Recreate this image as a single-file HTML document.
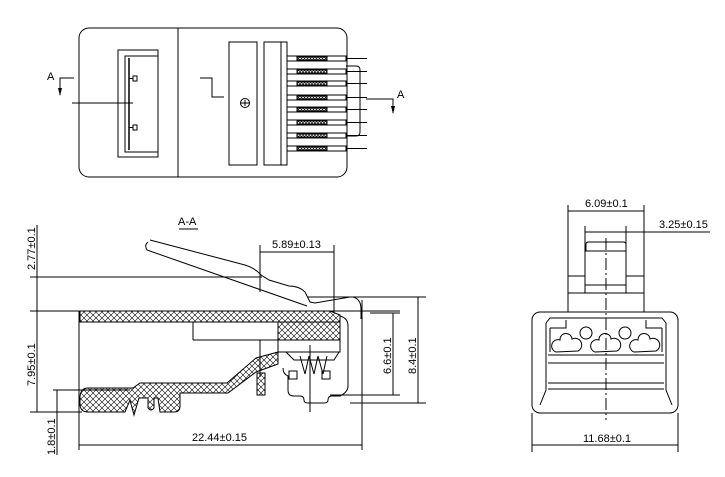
<!DOCTYPE html>
<html><head><meta charset="utf-8"><style>
html,body{margin:0;padding:0;background:#fff;width:725px;height:477px;overflow:hidden}
svg{display:block}
text{font-family:"Liberation Sans",sans-serif;font-size:11px;fill:#000}
</style></head><body>
<svg width="725" height="477" viewBox="0 0 725 477" xmlns="http://www.w3.org/2000/svg">
<defs>
<pattern id="h" width="6" height="6" patternUnits="userSpaceOnUse">
<path d="M0,0L6,6M6,0L0,6" stroke="#000" stroke-width="0.6"/>
</pattern>
<pattern id="h2" width="3" height="3" patternUnits="userSpaceOnUse">
<path d="M0,0L3,3M3,0L0,3" stroke="#000" stroke-width="0.6"/>
</pattern>
</defs>
<g fill="none" stroke="#000" stroke-width="1">
<!-- TOP VIEW -->
<rect x="79" y="28" width="268" height="149" rx="10"/>
<line x1="178" y1="28" x2="178" y2="177"/>
<rect x="118" y="50" width="40" height="107"/>
<rect x="125" y="56" width="33" height="96"/>
<line x1="129" y1="58" x2="129" y2="150" stroke-width="1.5"/>
<rect x="133" y="76" width="4" height="5"/><line x1="129" y1="78.5" x2="133" y2="78.5"/>
<rect x="133" y="125" width="4" height="5"/><line x1="129" y1="127.5" x2="133" y2="127.5"/>
<line x1="72" y1="103" x2="133" y2="103"/>
<polyline points="74,78 60,78 60,95"/>
<polyline points="200,78 212,78 212,97 224,97"/>
<rect x="229" y="42" width="28" height="123"/>
<rect x="264" y="42" width="23" height="123"/>
<line x1="281" y1="42" x2="281" y2="165"/>
<circle cx="245" cy="103" r="4.5"/>
<path d="M241,103h8M245,100v6"/>
<g>
<rect x="287" y="56" width="59" height="5"/><rect x="297" y="57" width="30" height="3" fill="url(#h2)"/>
<rect x="287" y="69" width="59" height="5"/><rect x="297" y="70" width="30" height="3" fill="url(#h2)"/>
<rect x="287" y="81" width="59" height="5"/><rect x="297" y="82" width="30" height="3" fill="url(#h2)"/>
<rect x="287" y="95" width="59" height="5"/><rect x="297" y="96" width="30" height="3" fill="url(#h2)"/>
<rect x="287" y="107" width="59" height="5"/><rect x="297" y="108" width="30" height="3" fill="url(#h2)"/>
<rect x="287" y="120" width="59" height="5"/><rect x="297" y="121" width="30" height="3" fill="url(#h2)"/>
<rect x="287" y="133" width="59" height="5"/><rect x="297" y="134" width="30" height="3" fill="url(#h2)"/>
<rect x="287" y="146" width="59" height="5"/><rect x="297" y="147" width="30" height="3" fill="url(#h2)"/>
</g>
<path d="M346,58.5h21M346,71.5h21M346,83.5h21M346,97.5h21M346,109.5h21M346,122.5h21M346,135.5h21M346,148.5h21"/>
<path d="M346,66h10q4,0 4,4v62q0,4 -4,4h-10"/>
<polyline points="366,99 393,99 393,113"/>
<!-- SECTION A-A -->
<line x1="179" y1="229" x2="198" y2="229"/>
<line x1="37" y1="225" x2="37" y2="412"/>
<line x1="30" y1="277" x2="262" y2="277"/>
<line x1="30" y1="311" x2="400" y2="311"/>
<line x1="30" y1="412" x2="82" y2="412"/>
<line x1="53" y1="390" x2="130" y2="390"/>
<line x1="57" y1="390" x2="57" y2="455"/>
<line x1="79" y1="445" x2="362" y2="445"/>
<line x1="79" y1="311" x2="79" y2="450"/>
<line x1="362" y1="300" x2="362" y2="450"/>
<line x1="260" y1="252" x2="334" y2="252"/>
<line x1="260" y1="245" x2="260" y2="292"/>
<line x1="334" y1="245" x2="334" y2="312"/>
<line x1="393" y1="313" x2="393" y2="395"/>
<line x1="370" y1="313" x2="400" y2="313"/>
<line x1="330" y1="395" x2="400" y2="395"/>
<line x1="418" y1="297" x2="418" y2="403"/>
<line x1="308" y1="297" x2="426" y2="297"/>
<line x1="350" y1="403" x2="426" y2="403"/>
<!-- latch -->
<path d="M148,242q-4,3 -1,8l160,56M150,240l95,25q10,3 16,10l8,5l20,6q10,0 16,6l5,10l5,1l35,-6h3q8,2 8,12v10"/>
<!-- body top band -->
<path d="M80,311h250l10,4v7h-260z" fill="url(#h)"/>
<line x1="193" y1="322" x2="193" y2="340"/>
<line x1="193" y1="340" x2="278" y2="340"/>
<line x1="260" y1="340" x2="260" y2="377"/>
<rect x="278" y="322" width="62" height="18" fill="url(#h)"/>
<path d="M278,340h62v12h-62z"/>
<path d="M340,316q8,2 8,10v60q0,6 -8,10h-8q-4,0 -4,4v0q0,3 -4,3h-16q-4,0 -4,-3q0,-4 -4,-4h-6q-6,0 -6,-6v-14q-5,-2 -5,-8"/>
<!-- lower body -->
<path d="M278,352L256,358L227,383H140L133,388H88Q80,388 80,398V404Q80,412 88,412H125L130,400L134,415L139,398H148V408Q151,412 154,408V398H158L160,412H174Q180,412 180,406V393H228L256,372L278,364Z" fill="url(#h)"/>
<path d="M257,373h8v22h-8z" fill="url(#h)"/>
<path d="M278,352h8l8,8h40l5,-8" />
<path d="M300,356l5,18l4,-18l5,18l4,-18l5,18l4,-18"/>
<line x1="310" y1="345" x2="310" y2="412"/>
<rect x="289" y="371" width="8" height="8"/><rect x="322" y="371" width="8" height="8"/>
<!-- RIGHT VIEW -->
<line x1="568" y1="211" x2="644" y2="211"/>
<line x1="568" y1="205" x2="568" y2="312"/>
<line x1="644" y1="205" x2="644" y2="312"/>
<line x1="585" y1="232" x2="710" y2="232"/>
<line x1="585" y1="226" x2="585" y2="293"/>
<line x1="626" y1="226" x2="626" y2="293"/>
<path d="M586,251v-7q0,-2 3,-2h34q3,0 3,2v7"/>
<line x1="585" y1="251" x2="626" y2="251"/>
<line x1="585" y1="285" x2="626" y2="285"/>
<line x1="568" y1="276" x2="585" y2="276"/>
<line x1="626" y1="276" x2="644" y2="276"/>
<line x1="568" y1="293" x2="644" y2="293"/>
<rect x="532" y="312" width="146" height="101" rx="8"/>
<path d="M546,323l4,-5h112l4,5v67l6,15M546,323v67l-6,15"/>
<path d="M550,328h16v-8M662,328h-16v-8M550,328v24M662,328v24"/>
<line x1="548" y1="355" x2="664" y2="355"/>
<line x1="548" y1="363" x2="664" y2="363"/>
<line x1="548" y1="383" x2="664" y2="383"/>
<line x1="548" y1="389" x2="664" y2="389"/>
<circle cx="586" cy="333" r="6"/><circle cx="625" cy="333" r="6"/>
<path d="M556,352a6,6 0 1,1 4,-12a6,6 0 0,1 12,-1a6,6 0 1,1 6,12z"/>
<path d="M595,352a6,6 0 1,1 4,-12a6,6 0 0,1 12,-1a6,6 0 1,1 6,12z"/>
<path d="M634,352a6,6 0 1,1 4,-12a6,6 0 0,1 12,-1a6,6 0 1,1 6,12z"/>
<line x1="606" y1="238" x2="606" y2="420" stroke-dasharray="12,3,2,3"/>
<line x1="532" y1="445" x2="678" y2="445"/>
<line x1="532" y1="413" x2="532" y2="452"/>
<line x1="678" y1="413" x2="678" y2="452"/>
</g>
<path d="M58,88l2,8l2,-8z M391,106l2,8l2,-8z"/>
<text x="47" y="80">A</text>
<text x="397" y="98">A</text>
<text x="178" y="225">A-A</text>
<text x="272" y="248">5.89±0.13</text>
<text x="192" y="441">22.44±0.15</text>
<text x="585" y="207">6.09±0.1</text>
<text x="659" y="228">3.25±0.15</text>
<text x="583" y="442">11.68±0.1</text>
<text transform="translate(35,270) rotate(-90)">2.77±0.1</text>
<text transform="translate(35,386) rotate(-90)">7.95±0.1</text>
<text transform="translate(55,455) rotate(-90)">1.8±0.1</text>
<text transform="translate(391,374) rotate(-90)">6.6±0.1</text>
<text transform="translate(416,374) rotate(-90)">8.4±0.1</text>
</svg>
</body></html>
